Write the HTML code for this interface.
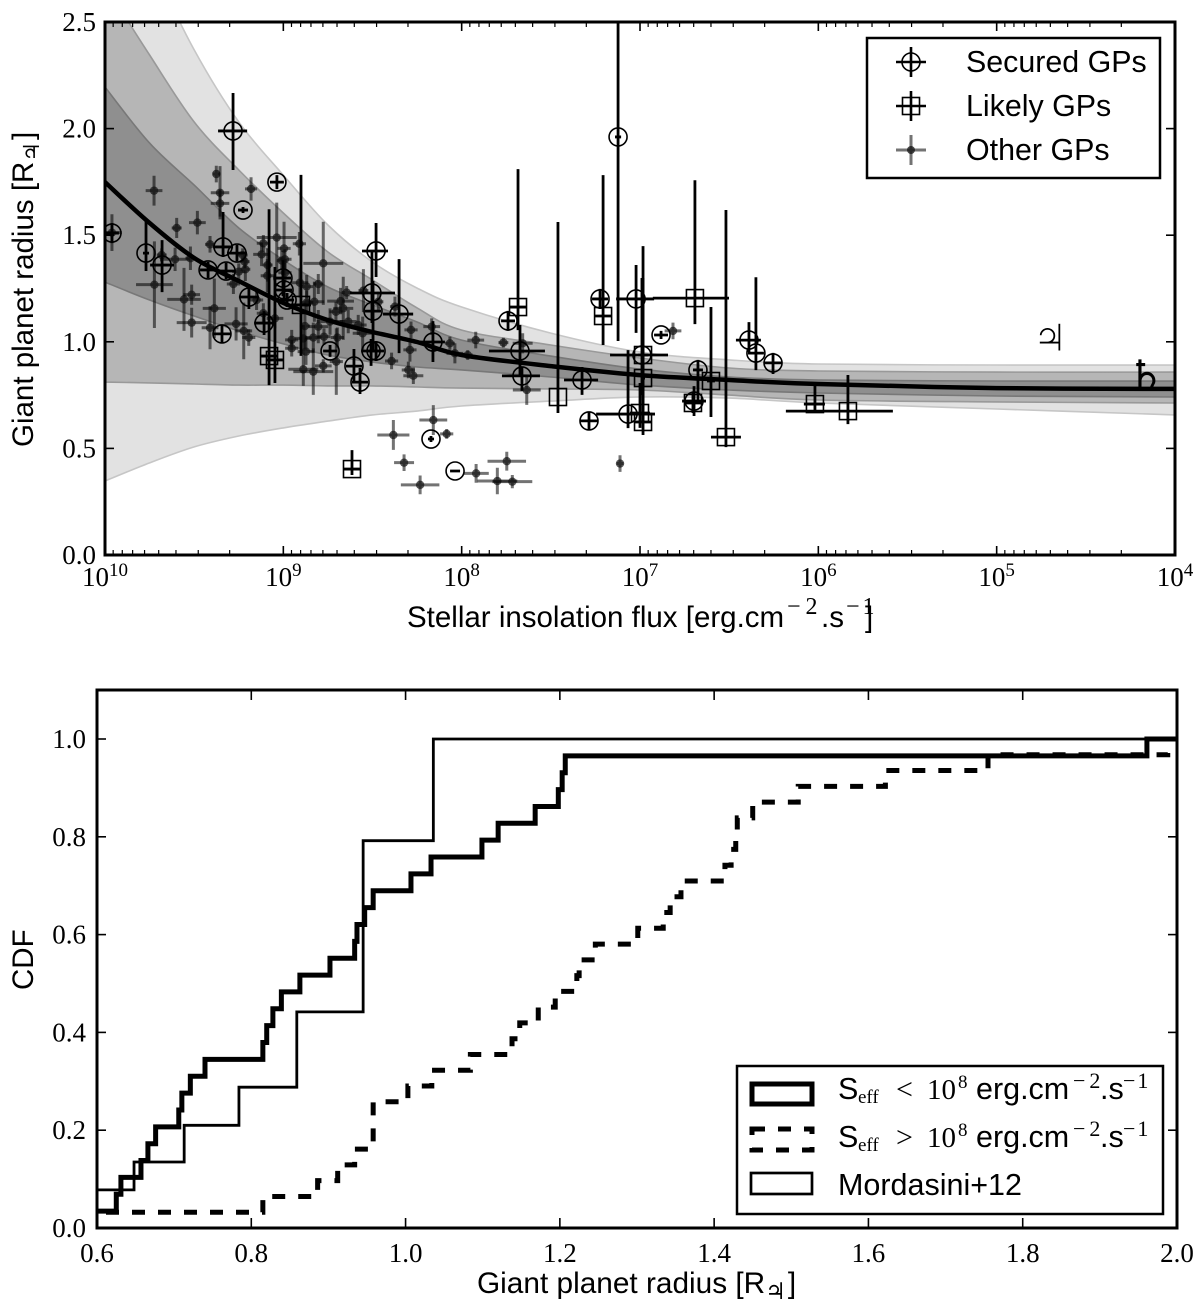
<!DOCTYPE html>
<html lang="en">
<head>
<meta charset="utf-8">
<title>Giant planet radius vs stellar insolation flux</title>
<style>
html,body{margin:0;padding:0;background:#fff;}
svg{display:block;}
.sans{font-family:"Liberation Sans",sans-serif;fill:#000;}
.serif{font-family:"Liberation Serif",serif;fill:#000;}
.sym{font-family:"DejaVu Sans",sans-serif;fill:#000;}
</style>
</head>
<body>
<svg id="figure" xmlns="http://www.w3.org/2000/svg" width="1200" height="1313" viewBox="0 0 1200 1313">
  <defs>
    <clipPath id="clip-top"><rect x="105" y="22" width="1070" height="533"/></clipPath>
    <clipPath id="clip-bottom"><rect x="97" y="690" width="1080" height="538"/></clipPath>
  </defs>
  <rect x="0" y="0" width="1200" height="1313" fill="#fff"/>
  <g id="top-plot">
    <g id="top-marks" clip-path="url(#clip-top)"></g>
    <text class="sym" x="1050" y="351" font-size="38" text-anchor="middle" stroke="#fff" stroke-width="1">♃</text>
    <text class="sym" x="1146" y="390" font-size="42" text-anchor="middle">♄</text>
    <rect x="105" y="22" width="1070" height="533" fill="none" stroke="#000" stroke-width="3"/>
    <g id="top-ticks"></g>
    <text class="sans" font-size="29.5"><tspan x="407" y="627">Stellar insolation flux [erg.cm</tspan><tspan class="serif" x="787" y="614" font-size="24" letter-spacing="5">−2</tspan><tspan x="821" y="627">.s</tspan><tspan class="serif" x="846" y="614" font-size="24" letter-spacing="3">−1</tspan><tspan x="865" y="627">]</tspan></text>
    <text class="sans" transform="translate(33,447) rotate(-90)" font-size="29.5">Giant planet radius [R<tspan class="sym" dy="6" font-size="22">♃</tspan><tspan dy="-6" dx="2">]</tspan></text>
    <g>
      <rect x="867" y="38" width="293" height="140" fill="#fff" stroke="#000" stroke-width="2.5"/>
      <g>
        <path d="M896 62H926M911 47V77" stroke="#000" stroke-width="2.6" fill="none"/>
        <circle cx="911" cy="62" r="9" fill="none" stroke="#000" stroke-width="1.6"/>
        <text class="sans" x="966" y="72" font-size="30.4">Secured GPs</text>
      </g>
      <g>
        <path d="M896 106H926M911 91V121" stroke="#000" stroke-width="2.6" fill="none"/>
        <rect x="902.5" y="97.5" width="17" height="17" fill="none" stroke="#000" stroke-width="1.6"/>
        <text class="sans" x="966" y="116" font-size="30.4">Likely GPs</text>
      </g>
      <g>
        <path d="M896 150H926M911 135V165" stroke="#000" stroke-opacity="0.55" stroke-width="3" fill="none"/>
        <circle cx="911" cy="150" r="4" fill="#111" fill-opacity="0.75"/>
        <text class="sans" x="966" y="160" font-size="30.4">Other GPs</text>
      </g>
    </g>
  </g>
  <g id="bottom-plot">
    <g id="bottom-marks" clip-path="url(#clip-bottom)"></g>
    <rect x="97" y="690" width="1080" height="538" fill="none" stroke="#000" stroke-width="3"/>
    <g id="bottom-ticks"></g>
    <text class="sans" x="477" y="1293" font-size="29.8">Giant planet radius [R<tspan class="sym" dy="6" font-size="23">♃</tspan><tspan dy="-6" dx="2">]</tspan></text>
    <text class="sans" transform="translate(33,990) rotate(-90)" font-size="29.5">CDF</text>
    <g>
      <rect x="737" y="1066" width="426" height="148" fill="#fff" stroke="#000" stroke-width="2.5"/>
      <g>
        <rect x="752" y="1084" width="60" height="20" fill="none" stroke="#000" stroke-width="5"/>
        <text class="sans" font-size="30.5"><tspan x="838" y="1099">S</tspan><tspan class="serif" x="858" y="1103" font-size="19">eff</tspan><tspan class="serif" x="896" y="1099" font-size="30">&lt;</tspan><tspan class="serif" x="927" y="1099" font-size="29">10</tspan><tspan class="serif" x="958" y="1088" font-size="19">8</tspan><tspan x="976" y="1099">erg.cm</tspan><tspan class="serif" x="1073" y="1088" font-size="22" letter-spacing="4">−2</tspan><tspan x="1100" y="1099">.s</tspan><tspan class="serif" x="1123" y="1088" font-size="22" letter-spacing="2">−1</tspan></text>
      </g>
      <g>
        <rect x="752" y="1129" width="60" height="21" fill="none" stroke="#000" stroke-width="5" stroke-dasharray="13 13"/>
        <text class="sans" font-size="30.5"><tspan x="838" y="1147">S</tspan><tspan class="serif" x="858" y="1151" font-size="19">eff</tspan><tspan class="serif" x="896" y="1147" font-size="30">&gt;</tspan><tspan class="serif" x="927" y="1147" font-size="29">10</tspan><tspan class="serif" x="958" y="1136" font-size="19">8</tspan><tspan x="976" y="1147">erg.cm</tspan><tspan class="serif" x="1073" y="1136" font-size="22" letter-spacing="4">−2</tspan><tspan x="1100" y="1147">.s</tspan><tspan class="serif" x="1123" y="1136" font-size="22" letter-spacing="2">−1</tspan></text>
      </g>
      <g>
        <rect x="751" y="1173" width="61" height="21" fill="none" stroke="#000" stroke-width="2.7"/>
        <text class="sans" x="838" y="1195" font-size="30.5">Mordasini+12</text>
      </g>
    </g>
  </g>
</svg>
<script>
// ---- Top panel data (log10 of flux, radius in Jupiter radii) ----
const bandLogFlux = [10,9.75,9.5,9.25,9,8.75,8.5,8.25,8,7.5,7,6.5,6,5,4];
const bandOuterUpper = [3.213,2.791,2.369,2.031,1.782,1.548,1.374,1.252,1.163,1.041,.952,.915,.896,.891,.891];
const bandMiddleUpper = [2.674,2.345,2.031,1.806,1.604,1.421,1.290,1.159,1.055,.985,.924,.877,.863,.858,.858];
const bandInnerUpper = [2.195,1.932,1.735,1.534,1.384,1.257,1.173,1.093,1.008,.933,.872,.835,.821,.816,.816];
const meanRadius = [1.749,1.557,1.393,1.285,1.182,1.102,1.046,.999,.938,.886,.844,.821,.802,.783,.779];
const bandInnerLower = [1.280,1.196,1.121,1.051,.990,.938,.905,.882,.868,.835,.797,.774,.760,.746,.741];
const bandMiddleLower = [.811,.807,.802,.797,.797,.793,.793,.788,.783,.779,.774,.750,.727,.718,.713];
const bandOuterLower = [.347,.432,.507,.558,.596,.628,.657,.675,.699,.722,.741,.736,.713,.685,.657];

const otherFlux = [9.725,9.376,9.355,9.355,9.181,9.482,9.598,9.961,9.411,9.607,9.521,9.682,9.723,9.557,9.514,9.387,9.514,9.411,9.265,9.222,9.194,9.280,9.250,9.213,9.217,9.228,9.112,9.037,9.122,8.996,8.910,8.991,9.009,9.088,9.090,8.991,8.907,8.869,8.776,8.804,9.150,9.112,9.047,8.826,8.869,8.679,8.664,8.705,8.645,8.551,8.467,8.580,8.555,8.636,8.738,8.804,8.879,8.888,8.953,8.953,8.832,8.772,8.697,8.873,8.888,8.832,8.776,8.703,8.393,8.290,8.284,8.374,8.168,8.299,8.271,8.066,8.038,7.921,7.966,7.766,7.658,7.635,8.159,8.383,8.084,8.323,8.233,7.919,7.800,7.716,7.747,7.112,6.815];
const otherRadius = [1.709,1.787,1.699,1.649,1.717,1.559,1.534,1.512,1.457,1.387,1.392,1.407,1.268,1.199,1.221,1.157,1.090,1.066,1.084,1.051,1.020,1.271,1.329,1.340,1.376,1.407,1.462,1.489,1.410,1.438,1.460,1.387,1.381,1.360,1.310,1.324,1.277,1.259,1.368,1.271,1.196,1.134,1.110,1.188,1.184,1.191,1.157,1.141,1.231,1.240,1.188,1.079,1.040,1.095,1.095,1.071,1.074,1.016,1.009,.970,1.020,1.024,1.020,.954,.871,.860,.887,.907,.910,.962,1.056,1.165,1.071,.868,.841,.993,.946,1.008,.938,.996,.993,.774,.633,.563,.568,.433,.329,.383,.347,.344,.440,.429,1.051];
const otherFluxErr = [.047,.019,.052,.052,.034,.047,.028,.056,.028,.084,.028,.028,.103,.094,.047,.065,.084,.047,.065,.047,.037,.037,.037,.028,.028,.028,.037,.112,.047,.037,.037,.037,.028,.028,.037,.037,.047,.037,.112,.028,.037,.037,.047,.056,.037,.075,.056,.037,.028,.028,.028,.047,.056,.047,.075,.056,.028,.047,.037,.037,.047,.037,.037,.047,.084,.112,.047,.037,.037,.037,.037,.028,.047,.037,.056,.028,.047,.047,.028,.028,.056,.078,.078,.090,.037,.056,.108,.071,.112,.112,.108,.019,.047];
const otherRadiusErr = [.070,.039,.125,.062,.055,.055,.047,.086,.039,.055,.055,.031,.203,.148,.047,.140,.070,.101,.078,.133,.039,.047,.039,.055,.031,.031,.039,.164,.055,.125,.055,.047,.047,.078,.078,.047,.070,.055,.195,.047,.047,.047,.047,.094,.055,.062,.148,.047,.031,.101,.047,.047,.078,.055,.062,.078,.109,.062,.047,.039,.070,.039,.047,.062,.078,.109,.031,.156,.039,.055,.039,.047,.039,.039,.039,.031,.047,.039,.023,.023,.047,.070,.070,.070,.023,.039,.044,.044,.062,.031,.044,.039,.039];

const securedFlux = [9.961,9.770,9.680,9.282,9.036,9.226,9.338,9.260,9.321,9.422,9.193,9.344,9.108,9.002,8.996,8.979,8.738,8.480,8.503,8.497,8.351,8.508,8.480,8.604,8.570,8.161,8.172,8.037,7.740,7.673,7.662,7.325,7.286,7.224,7.022,6.989,7.067,7.123,6.882,6.675,6.697,6.389,6.350,6.254];
const securedRadius = [1.510,1.416,1.360,1.989,1.749,1.618,1.445,1.416,1.332,1.337,1.210,1.037,1.088,1.299,1.243,1.196,.957,1.426,1.229,1.144,1.130,.957,.957,.886,.811,.999,.544,.394,1.098,.957,.840,.821,.629,1.201,1.201,.938,.661,1.961,1.032,.868,.722,1.008,.947,.901];
const securedFluxErrHigh = [.039,.017,.067,.084,.039,.028,.056,.056,.050,.045,.056,.050,.056,.045,.045,.039,.039,.079,.123,.045,.090,.056,.045,.045,.045,.073,.017,.028,.039,.174,.112,.101,.050,.045,.112,.179,.179,.017,.039,.028,.067,.073,.045,.050];
const securedFluxErrLow = [.039,.017,.067,.079,.039,.028,.056,.056,.050,.045,.056,.050,.056,.045,.045,.039,.039,.067,.129,.045,.079,.056,.045,.045,.045,.067,.017,.028,.039,.140,.101,.090,.050,.045,.101,.146,.151,.017,.039,.028,.067,.067,.045,.050];
const securedRadiusErrUp = [.047,.155,.117,.178,.033,.014,.164,.038,.038,.038,.056,.042,.056,.084,.047,.033,.028,.131,.197,.141,.258,.056,.047,.080,.066,.098,.014,.005,.047,.122,.042,.061,.042,.047,.159,.361,.300,.539,.019,.047,.070,.084,.356,.047];
const securedRadiusErrDown = [.047,.084,.127,.183,.033,.014,.047,.038,.038,.038,.056,.042,.056,.084,.047,.033,.028,.122,.141,.188,.183,.070,.047,.080,.056,.094,.014,.005,.047,.122,.070,.070,.042,.047,.159,.188,.066,.957,.019,.141,.070,.056,.080,.052];

const likelyFlux = [9.080,9.047,8.901,8.615,7.684,7.460,7.207,6.983,6.983,7.000,6.983,6.692,6.602,6.703,6.518,6.019,5.834];
const likelyRadius = [.933,.915,1.173,.403,1.163,.741,1.121,.938,.830,.666,.624,1.205,.816,.713,.553,.708,.675];
const likelyFluxErrHigh = [.045,.045,.056,.045,.050,.006,.050,.028,.011,.056,.045,.236,.022,.045,.084,.062,.348];
const likelyFluxErrLow = [.045,.045,.056,.045,.050,.006,.050,.028,.011,.056,.045,.191,.022,.045,.084,.056,.252];
const likelyRadiusErrUp = [.689,.436,.610,.089,.647,.821,.661,.361,.619,.141,.211,.553,.347,.047,1.065,.089,.169];
const likelyRadiusErrDown = [.136,.108,.239,.028,.108,.075,.136,.211,.211,.070,.061,.122,.169,.047,.047,.042,.061];

const fluxDecades = [10,9,8,7,6,5,4];
const radiusTicks = ["0.0","0.5","1.0","1.5","2.0","2.5"];

// ---- Bottom panel data ----
const lowFluxRadii = [.55,.625,.631,.657,.666,.676,.706,.710,.721,.740,.815,.820,.828,.839,.863,.902,.934,.937,.947,.958,1.007,1.033,1.099,1.120,1.168,1.198,1.203,1.207,1.961];
const highFluxRadii = [.55,.815,.886,.912,.934,.958,.958,.958,1.003,1.034,1.084,1.138,1.148,1.172,1.194,1.222,1.225,1.246,1.301,1.334,1.343,1.357,1.414,1.422,1.428,1.430,1.450,1.509,1.622,1.755,1.988];
const mordasiniEdges = [.648,.713,.784,.859,.945,1.036];
const mordasiniCdf = [.078,.135,.21,.288,.442,.792,1.0];
const cdfXTicks = ["0.6","0.8","1.0","1.2","1.4","1.6","1.8","2.0"];
const cdfYTicks = ["0.0","0.2","0.4","0.6","0.8","1.0"];

// ---- Axis functions ----
const SVGNS = "http://www.w3.org/2000/svg";
const xTop = v => 105 + (10 - v) * (1070 / 6);
const yTop = v => 555 - v * 213.2;
const xBot = v => 97 + (v - 0.6) * (1080 / 1.4);
const yBot = v => 1228 - v * 489;

function make(tag, parent) {
  const el = document.createElementNS(SVGNS, tag);
  parent.appendChild(el);
  return el;
}

function smoothPath(xs, ys) {
  let d = "";
  for (let i = 0; i < xs.length - 1; i++) {
    const p0x = xs[Math.max(i - 1, 0)], p0y = ys[Math.max(i - 1, 0)];
    const p1x = xs[i], p1y = ys[i], p2x = xs[i + 1], p2y = ys[i + 1];
    const p3x = xs[Math.min(i + 2, xs.length - 1)], p3y = ys[Math.min(i + 2, xs.length - 1)];
    if (i === 0) d += "M" + p1x.toFixed(1) + " " + p1y.toFixed(1);
    d += "C" + (p1x + (p2x - p0x) / 6).toFixed(1) + " " + (p1y + (p2y - p0y) / 6).toFixed(1) + " " +
         (p2x - (p3x - p1x) / 6).toFixed(1) + " " + (p2y - (p3y - p1y) / 6).toFixed(1) + " " +
         p2x.toFixed(1) + " " + p2y.toFixed(1);
  }
  return d;
}

const topMarks = document.getElementById("top-marks");
const topTicks = document.getElementById("top-ticks");
const bottomMarks = document.getElementById("bottom-marks");
const bottomTicks = document.getElementById("bottom-ticks");

function drawBand(upper, lower, fill, edge, name) {
  const xsF = bandLogFlux.map(xTop);
  const up = smoothPath(xsF, upper.map(yTop));
  const revX = xsF.slice().reverse();
  const low = smoothPath(revX, lower.slice().reverse().map(yTop));
  const area = make("path", topMarks);
  area.setAttribute("d", up + "L" + low.slice(1) + "Z");
  area.setAttribute("fill", fill);
  area.setAttribute("stroke", edge);
  area.setAttribute("stroke-width", "1.6");
  
  
}
drawBand(bandOuterUpper, bandOuterLower, "#e2e2e2", "#c6c6c6", "band-outer");
drawBand(bandMiddleUpper, bandMiddleLower, "#b6b6b6", "#999999", "band-middle");
drawBand(bandInnerUpper, bandInnerLower, "#8f8f8f", "#787878", "band-inner");

otherFlux.forEach((f, i) => {
  const g = make("g", topMarks);
  
  
  const bars = make("path", g);
  bars.setAttribute("d", "M" + xTop(f + otherFluxErr[i]) + " " + yTop(otherRadius[i]) + "H" + xTop(f - otherFluxErr[i]) +
    "M" + xTop(f) + " " + yTop(otherRadius[i] + otherRadiusErr[i]) + "V" + yTop(otherRadius[i] - otherRadiusErr[i]));
  bars.setAttribute("stroke", "#000");
  bars.setAttribute("stroke-opacity", "0.55");
  bars.setAttribute("stroke-width", "3");
  bars.setAttribute("fill", "none");
  const dot = make("circle", g);
  dot.setAttribute("cx", xTop(f));
  dot.setAttribute("cy", yTop(otherRadius[i]));
  dot.setAttribute("r", "4.2");
  dot.setAttribute("fill", "#111");
  dot.setAttribute("fill-opacity", "0.7");
});

const meanLine = make("path", topMarks);
meanLine.setAttribute("d", smoothPath(bandLogFlux.map(xTop), meanRadius.map(yTop)));
meanLine.setAttribute("fill", "none");
meanLine.setAttribute("stroke", "#000");
meanLine.setAttribute("stroke-width", "4.5");



function drawBars(g, f, r, hi, lo, up, dn) {
  const bars = make("path", g);
  bars.setAttribute("d", "M" + xTop(f + hi) + " " + yTop(r) + "H" + xTop(f - lo) +
    "M" + xTop(f) + " " + yTop(r + up) + "V" + yTop(r - dn));
  bars.setAttribute("stroke", "#000");
  bars.setAttribute("stroke-width", "2.8");
  bars.setAttribute("fill", "none");
}

likelyFlux.forEach((f, i) => {
  const g = make("g", topMarks);
  
  
  drawBars(g, f, likelyRadius[i], likelyFluxErrHigh[i], likelyFluxErrLow[i], likelyRadiusErrUp[i], likelyRadiusErrDown[i]);
  const box = make("rect", g);
  box.setAttribute("x", xTop(f) - 8.5);
  box.setAttribute("y", yTop(likelyRadius[i]) - 8.5);
  box.setAttribute("width", "17");
  box.setAttribute("height", "17");
  box.setAttribute("fill", "none");
  box.setAttribute("stroke", "#000");
  box.setAttribute("stroke-width", "1.6");
});

securedFlux.forEach((f, i) => {
  const g = make("g", topMarks);
  
  
  drawBars(g, f, securedRadius[i], securedFluxErrHigh[i], securedFluxErrLow[i], securedRadiusErrUp[i], securedRadiusErrDown[i]);
  const ring = make("circle", g);
  ring.setAttribute("cx", xTop(f));
  ring.setAttribute("cy", yTop(securedRadius[i]));
  ring.setAttribute("r", "9");
  ring.setAttribute("fill", "none");
  ring.setAttribute("stroke", "#000");
  ring.setAttribute("stroke-width", "1.6");
});

function tickLine(parent, x1, y1, x2, y2, width) {
  const t = make("line", parent);
  t.setAttribute("x1", x1);
  t.setAttribute("y1", y1);
  t.setAttribute("x2", x2);
  t.setAttribute("y2", y2);
  t.setAttribute("stroke", "#000");
  t.setAttribute("stroke-width", width);
  
  
}

fluxDecades.forEach((d, i) => {
  const x = xTop(d);
  tickLine(topTicks, x, 555, x, 546, 1.6);
  tickLine(topTicks, x, 22, x, 31, 1.6);
  const label = make("text", topTicks);
  label.setAttribute("x", x);
  label.setAttribute("y", 586);
  label.setAttribute("class", "serif");
  label.setAttribute("font-size", "27");
  label.setAttribute("text-anchor", "middle");
  
  
  const base = make("tspan", label);
  base.textContent = "10";
  const sup = make("tspan", label);
  sup.setAttribute("dy", "-10");
  sup.setAttribute("font-size", "19");
  sup.textContent = String(d);
  if (i < fluxDecades.length - 1) {
    for (let m = 2; m <= 9; m++) {
      const xm = xTop(d - 1 + Math.log10(m));
      tickLine(topTicks, xm, 555, xm, 550, 1.2);
      tickLine(topTicks, xm, 22, xm, 27, 1.2);
    }
  }
});

radiusTicks.forEach(lbl => {
  const y = yTop(parseFloat(lbl));
  tickLine(topTicks, 105, y, 114, y, 1.6);
  tickLine(topTicks, 1175, y, 1166, y, 1.6);
  const t = make("text", topTicks);
  t.setAttribute("x", 96);
  t.setAttribute("y", y + 9);
  t.setAttribute("class", "serif");
  t.setAttribute("font-size", "27");
  t.setAttribute("text-anchor", "end");
  
  
  t.textContent = lbl;
});

function cdfPath(radii) {
  const n = radii.length;
  let k = radii.filter(r => r < 0.6).length;
  let d = "M" + xBot(0.6) + " " + yBot(k / n);
  radii.filter(r => r >= 0.6).forEach(r => {
    k += 1;
    d += "H" + xBot(r) + "V" + yBot(k / n);
  });
  return d + "H" + xBot(2.0);
}

const lowLine = make("path", bottomMarks);
lowLine.setAttribute("d", cdfPath(lowFluxRadii));
lowLine.setAttribute("fill", "none");
lowLine.setAttribute("stroke", "#000");
lowLine.setAttribute("stroke-width", "5");



const highLine = make("path", bottomMarks);
highLine.setAttribute("d", cdfPath(highFluxRadii));
highLine.setAttribute("fill", "none");
highLine.setAttribute("stroke", "#000");
highLine.setAttribute("stroke-width", "5");
highLine.setAttribute("stroke-dasharray", "13 13");
highLine.setAttribute("stroke-dashoffset", "17");



let mordD = "M" + xBot(0.6) + " " + yBot(mordasiniCdf[0]);
mordasiniEdges.forEach((e, i) => {
  mordD += "H" + xBot(e) + "V" + yBot(mordasiniCdf[i + 1]);
});
mordD += "H" + xBot(2.0);
const mordLine = make("path", bottomMarks);
mordLine.setAttribute("d", mordD);
mordLine.setAttribute("fill", "none");
mordLine.setAttribute("stroke", "#000");
mordLine.setAttribute("stroke-width", "2.8");



cdfXTicks.forEach(lbl => {
  const x = xBot(parseFloat(lbl));
  tickLine(bottomTicks, x, 1228, x, 1218, 1.6);
  tickLine(bottomTicks, x, 690, x, 700, 1.6);
  const t = make("text", bottomTicks);
  t.setAttribute("x", x);
  t.setAttribute("y", 1262);
  t.setAttribute("class", "serif");
  t.setAttribute("font-size", "27");
  t.setAttribute("text-anchor", "middle");
  
  
  t.textContent = lbl;
});

cdfYTicks.forEach(lbl => {
  const y = yBot(parseFloat(lbl));
  tickLine(bottomTicks, 97, y, 106, y, 1.6);
  tickLine(bottomTicks, 1177, y, 1168, y, 1.6);
  const t = make("text", bottomTicks);
  t.setAttribute("x", 86);
  t.setAttribute("y", y + 9);
  t.setAttribute("class", "serif");
  t.setAttribute("font-size", "27");
  t.setAttribute("text-anchor", "end");
  
  
  t.textContent = lbl;
});
</script>
</body>
</html>
